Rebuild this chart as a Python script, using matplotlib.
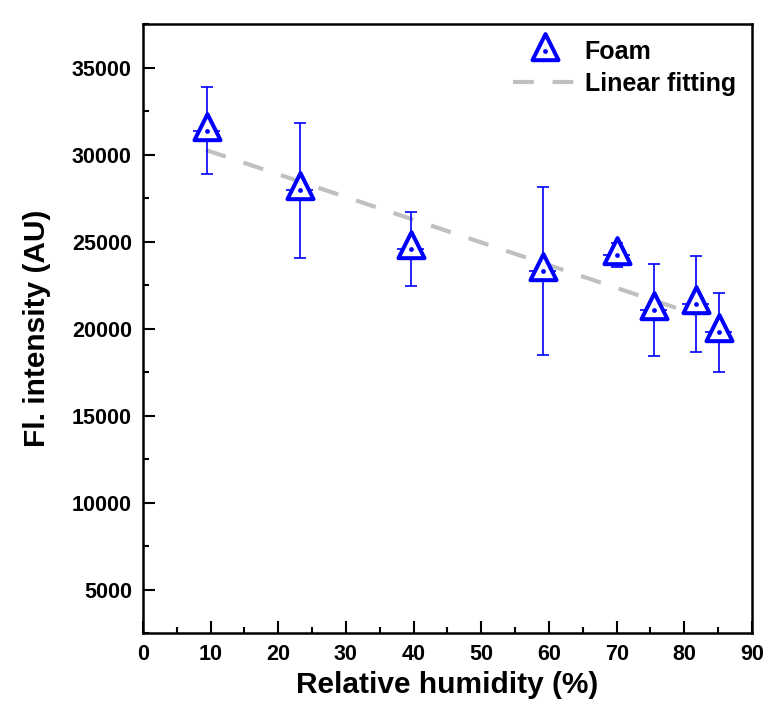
import matplotlib
matplotlib.use('Agg')
import matplotlib.pyplot as plt
from matplotlib.path import Path
from matplotlib.markers import MarkerStyle
from matplotlib.ticker import MultipleLocator
from matplotlib.legend_handler import HandlerTuple

plt.rcParams['font.family'] = ['Liberation Sans', 'DejaVu Sans']
plt.rcParams['font.weight'] = 'bold'

# data
humidity = [9.4, 23.2, 39.6, 59.1, 70.0, 75.5, 81.7, 85.1]
intensity = [31380, 27950, 24570, 23320, 24210, 21050, 21400, 19780]
intensity_err = [2510, 3870, 2155, 4820, 690, 2635, 2760, 2270]
humidity_err = [2.0, 2.0, 2.0, 2.0, 2.0, 2.0, 2.0, 2.0]

# linear fit end points
fit_x = [9.3, 81.9]
fit_y = [30260, 20780]

blue = '#0000ff'
grey = '#c0c0c0'

# triangle centred on its centroid, like Origin does
tri = Path([(0, 4 / 3), (-1, -2 / 3), (1, -2 / 3), (0, 0)],
           [Path.MOVETO, Path.LINETO, Path.LINETO, Path.CLOSEPOLY])
tri_marker = MarkerStyle(tri, joinstyle='miter')

fig = plt.figure(figsize=(7.67, 7.11), dpi=100)
ax = fig.add_axes([0.1864, 0.1097, 0.7940, 0.8565])

fit_line, = ax.plot(fit_x, fit_y, color=grey, lw=3.0, dashes=(5, 4.5),
                    solid_capstyle='butt', zorder=2)

# vertical error bars with caps, horizontal ones without
ax.errorbar(humidity, intensity, yerr=intensity_err, fmt='none', ecolor=blue,
            elinewidth=1.2, capsize=4.3, capthick=1.2, zorder=3)
ax.errorbar(humidity, intensity, xerr=humidity_err, fmt='none', ecolor=blue,
            elinewidth=1.2, capsize=0, zorder=3)

pts, = ax.plot(humidity, intensity, linestyle='none', marker=tri_marker,
               ms=25, mfc='white', mec=blue, mew=2.9, zorder=4)
dots, = ax.plot(humidity, intensity, linestyle='none', marker='o', ms=2.4,
                color=blue, zorder=5)

ax.set_xlim(0, 90)
ax.set_ylim(2500, 37500)
ax.xaxis.set_major_locator(MultipleLocator(10))
ax.xaxis.set_minor_locator(MultipleLocator(5))
ax.yaxis.set_minor_locator(MultipleLocator(2500))
ax.set_yticks([5000, 10000, 15000, 20000, 25000, 30000, 35000])

ax.tick_params(which='both', direction='in', width=1.5, top=False, right=False,
               labelsize=15.5)
ax.tick_params(which='major', length=8.5, pad=8)
ax.tick_params(which='minor', length=4.5)
for s in ax.spines.values():
    s.set_linewidth(1.8)

ax.set_xlabel('Relative humidity (%)', fontsize=21.5, fontweight='bold', labelpad=4)
ax.set_ylabel('Fl. intensity (AU)', fontsize=21.5, fontweight='bold', labelpad=15)

ax.legend([(pts, dots), fit_line], ['Foam', 'Linear fitting'],
          loc='upper right', frameon=False, fontsize=18,
          handlelength=2.5, handletextpad=0.35, labelspacing=0.3,
          borderaxespad=0.25,
          handler_map={tuple: HandlerTuple(ndivide=1)})

fig.savefig('out.png', dpi=100)
